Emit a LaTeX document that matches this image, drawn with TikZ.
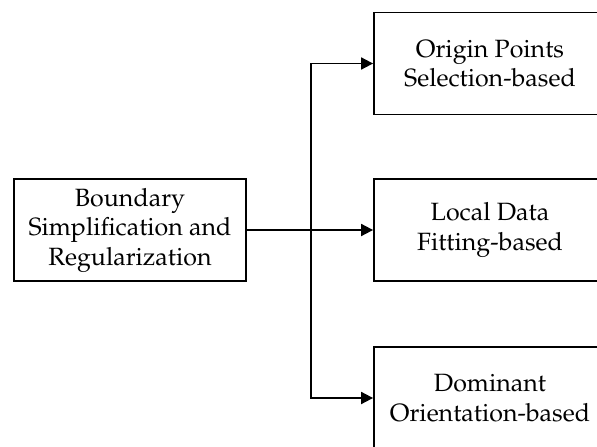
\documentclass[tikz,border=0pt]{standalone}
\usepackage[T1]{fontenc}
\usepackage{mathpazo}
\usetikzlibrary{arrows.meta}
\tikzset{
  box/.style={draw, line width=1.8pt, minimum width=232pt, minimum height=102pt,
    align=center, inner sep=0pt, font=\fontsize{25}{29.5}\selectfont},
  arr/.style={line width=1.8pt, -{Triangle[length=12pt,width=12pt]}}
}
\begin{document}
\begin{tikzpicture}[x=1pt,y=-1pt]
\useasboundingbox (0,0) rectangle (597,447);
\clip (0,0) rectangle (597,447);
\fill[white] (0,0) rectangle (597,447);
\node[box] (L) at (130,230) {Boundary\\Simplification and\\Regularization};
\node[box] (T) at (490,63.5) {Origin Points\\Selection-based};
\node[box] (M) at (490,230) {Local Data\\Fitting-based};
\node[box] (B) at (490,398) {Dominant\\Orientation-based};
\coordinate (J) at (311,230);
\draw[arr] (L.east) -- (M.west);
\draw[arr] (J) |- (T.west);
\draw[arr] (J) |- (B.west);
\end{tikzpicture}
\end{document}
